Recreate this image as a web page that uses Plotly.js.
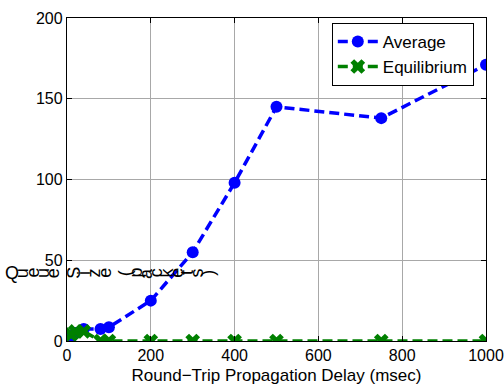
<!DOCTYPE html>
<html><head><meta charset="utf-8">
<script src="https://cdn.plot.ly/plotly-3.0.1.min.js"></script>
<style>html,body{margin:0;padding:0;background:#fff}#chart{width:504px;height:389px}</style>
</head><body><div id="chart"></div>
<script>
const delays = [10, 20, 40, 80, 100, 200, 300, 400, 500, 750, 1000];
const averageQueue = [2.5, 5, 7.5, 7.5, 8.5, 25, 55, 98, 145, 138, 171];
const equilibriumQueue = [4, 6, 6, 0, 0, 0, 0, 0, 0, 0, 0];
const seriesNames = ["Average", "Equilibrium"];
const xTitle = "Round\u2212Trip Propagation Delay (msec)";
const yTitle = "Queue Size (packets)";
const xTicks = [0, 200, 400, 600, 800, 1000];
const yTicks = [0, 50, 100, 150, 200];

const font = "Liberation Sans, Arial, sans-serif";
const traces = [
  {x: delays, y: averageQueue, name: seriesNames[0], type: 'scatter', mode: 'lines+markers',
   line: {color: '#0000ff', width: 3.5, dash: '10px,5px'}, marker: {symbol: 'circle', size: 12, color: '#0000ff'}},
  {x: delays, y: equilibriumQueue, name: seriesNames[1], type: 'scatter', mode: 'lines+markers',
   line: {color: '#008000', width: 3.5, dash: '10px,5px'}, marker: {symbol: 'x', size: 13, color: '#008000'}}
];

// broken per-character y label, laid out horizontally with rotated glyphs
const L = 67, W = 419;
const annotations = Array.from(yTitle).map((ch, i) => ({
  text: ch, xref: 'paper', yref: 'paper', showarrow: false,
  x: (12 + i * 10.3 - L) / W, y: (341 - 273) / 323,
  xanchor: 'center', yanchor: 'middle', textangle: i === 0 ? 0 : -90,
  font: {family: font, size: 18, color: '#000'}
}));

const layout = {
  width: 504, height: 389,
  margin: {l: 67, r: 18, t: 18, b: 48},
  paper_bgcolor: '#fff', plot_bgcolor: '#fff',
  font: {family: font, size: 16, color: '#000'},
  showlegend: true,
  legend: {x: 0.632, y: 0.985, xanchor: 'left', yanchor: 'top', bgcolor: '#fff',
           bordercolor: '#000', borderwidth: 1, font: {family: font, size: 17},
           tracegroupgap: 0, itemwidth: 40},
  xaxis: {range: [0, 1000], tickvals: xTicks, ticktext: xTicks.map(String),
          showgrid: true, gridcolor: '#a8a8a8', gridwidth: 1,
          showline: true, linecolor: '#000', linewidth: 1.2, mirror: 'ticks',
          ticks: 'inside', ticklen: 5, tickcolor: '#000', zeroline: false,
          tickfont: {family: font, size: 16},
          title: {text: xTitle, font: {family: font, size: 17}, standoff: 5}},
  yaxis: {range: [0, 200], tickvals: yTicks, ticktext: yTicks.map(String),
          showgrid: true, gridcolor: '#a8a8a8', gridwidth: 1,
          showline: true, linecolor: '#000', linewidth: 1.2, mirror: 'ticks',
          ticks: 'inside', ticklen: 5, tickcolor: '#000', zeroline: false,
          tickfont: {family: font, size: 16}},
  annotations: annotations
};
Plotly.newPlot('chart', traces, layout, {displayModeBar: false, staticPlot: true});
</script></body></html>
